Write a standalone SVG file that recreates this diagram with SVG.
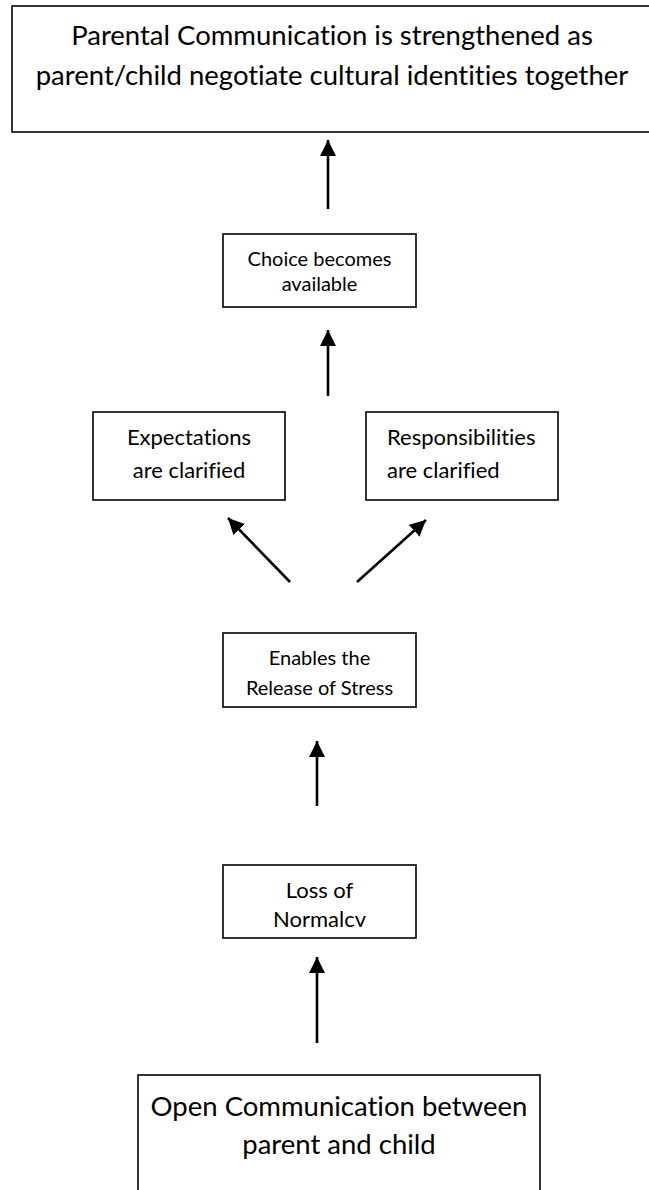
<svg xmlns="http://www.w3.org/2000/svg" width="649" height="1190" viewBox="0 0 649 1190">
<defs>
<style>
.box{fill:#fff;stroke:#000;stroke-width:1.6}
.t{font-family:Lato,"Liberation Sans",sans-serif;fill:#000;text-anchor:middle;font-variant-ligatures:none}
.big{font-size:27.5px}
.sm{font-size:20px}
.md{font-size:22px}
.con{stroke:#000;stroke-width:2.6;fill:none}
</style>
<marker id="ah" markerUnits="userSpaceOnUse" markerWidth="18" markerHeight="18" refX="16" refY="8" orient="auto">
<path d="M0,0 L16,8 L0,16 Z" fill="#000"/>
</marker>
</defs>
<rect width="649" height="1190" fill="#fff"/>
<g id="connectors">
<line class="con" x1="328" y1="209" x2="328" y2="140" marker-end="url(#ah)"/>
<line class="con" x1="328" y1="396" x2="328" y2="330" marker-end="url(#ah)"/>
<line class="con" x1="290" y1="582" x2="228" y2="518" marker-end="url(#ah)"/>
<line class="con" x1="357" y1="582" x2="426" y2="520" marker-end="url(#ah)"/>
<line class="con" x1="317" y1="806" x2="317" y2="741" marker-end="url(#ah)"/>
<line class="con" x1="317" y1="1043" x2="317" y2="957" marker-end="url(#ah)"/>
</g>
<g id="node-top">
<rect class="box" x="12" y="6" width="660" height="126"/>
<text class="t big" x="332" y="45">Parental Communication is strengthened as</text>
<text class="t big" x="332" y="85">parent/child negotiate cultural identities together</text>
</g>
<g id="node-choice">
<rect class="box" x="223" y="234" width="193" height="73"/>
<text class="t sm" x="319.5" y="266">Choice becomes</text>
<text class="t sm" x="319.5" y="291">available</text>
</g>
<g id="node-expectations">
<rect class="box" x="93" y="412" width="192" height="88"/>
<text class="t md" x="189" y="445">Expectations</text>
<text class="t md" x="189" y="478">are clarified</text>
</g>
<g id="node-responsibilities">
<rect class="box" x="366" y="412" width="192" height="88"/>
<text class="t md" x="387" y="445" style="text-anchor:start">Responsibilities</text>
<text class="t md" x="387" y="478" style="text-anchor:start">are clarified</text>
</g>
<g id="node-stress">
<rect class="box" x="223" y="633" width="193" height="74"/>
<text class="t sm" x="319.5" y="665">Enables the</text>
<text class="t sm" x="319.5" y="695">Release of Stress</text>
</g>
<g id="node-loss">
<rect class="box" x="223" y="865" width="193" height="73"/>
<text class="t md" x="319.5" y="898">Loss of</text>
<text class="t md" x="319.5" y="927">Normalcv</text>
</g>
<g id="node-open">
<rect class="box" x="138" y="1075" width="402" height="130"/>
<text class="t big" x="339" y="1116">Open Communication between</text>
<text class="t big" x="339" y="1154">parent and child</text>
</g>
</svg>
